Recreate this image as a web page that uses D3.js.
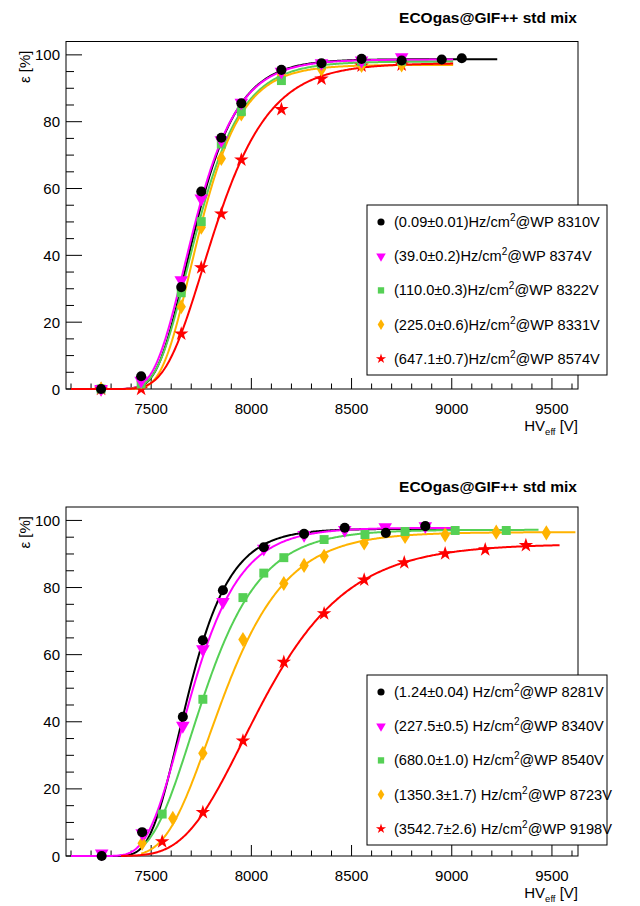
<!DOCTYPE html>
<html><head><meta charset="utf-8">
<script src="https://cdn.jsdelivr.net/npm/d3@7"></script>
<style>body{margin:0;background:#fff}svg{display:block;font-family:"Liberation Sans",Arial,sans-serif}</style>
</head><body><svg id="c" width="640" height="906"></svg>
<script>
// ---------- shared ----------
const titleText = "ECOgas@GIF++ std mix";
const xTicks = [7500, 8000, 8500, 9000, 9500];
const yTicks = [0, 20, 40, 60, 80, 100];
const seriesColors = ["#000000", "#ff00ff", "#55d055", "#ffb300", "#ff0000"];
const seriesMarkers = ["circle", "triangleDown", "square", "diamond", "star"];

// ---------- top panel data ----------
const topLegend = ["(0.09\u00b10.01)Hz/cm^2@WP 8310V", "(39.0\u00b10.2)Hz/cm^2@WP 8374V",
  "(110.0\u00b10.3)Hz/cm^2@WP 8322V", "(225.0\u00b10.6)Hz/cm^2@WP 8331V", "(647.1\u00b10.7)Hz/cm^2@WP 8574V"];
const topBlackHV  = [7250, 7450, 7650, 7750, 7850, 7950, 8150, 8350, 8550, 8750, 8950, 9050];
const topBlackEff = [0, 3.8, 30.5, 59.1, 75.2, 85.5, 95.5, 97.5, 98.8, 98.3, 98.6, 99.0];
const topMagHV    = [7250, 7450, 7650, 7750, 7850, 7950, 8150, 8350, 8550, 8750];
const topMagEff   = [0, 2.5, 32.6, 57.0, 74.5, 85.7, 95.0, 97.5, 98.3, 99.3];
const topGreenHV  = [7250, 7450, 7650, 7750, 7850, 7950, 8150, 8350, 8550, 8750];
const topGreenEff = [0, 1.5, 28.8, 50.1, 73.3, 83.0, 92.3, 97.2, 98.0, 98.2];
const topOrHV     = [7250, 7450, 7650, 7750, 7850, 7950, 8150, 8350, 8550, 8750];
const topOrEff    = [0, 2.2, 24.6, 48.4, 69.0, 82.3, 94.0, 95.7, 96.8, 97.0];
const topRedHV    = [7250, 7450, 7650, 7750, 7850, 7950, 8150, 8350, 8550, 8750];
const topRedEff   = [0, 0, 16.5, 36.3, 52.4, 68.6, 83.7, 92.8, 96.7, 97.0];
// fitted curve parameters (plateau, slope, position, range)
const topFitEmax = [98.7, 98.6, 98.0, 97.0, 97.5];
const topFitK    = [0.0070, 0.0068, 0.00666, 0.00707, 0.0054];
const topFitX0   = [7673, 7664, 7680, 7695, 7756];
const topFitFrom = [7100, 7100, 7100, 7100, 7100];
const topFitTo   = [9227, 9007, 9007, 9007, 9007];

// ---------- bottom panel data ----------
const botLegend = ["(1.24\u00b10.04) Hz/cm^2@WP 8281V", "(227.5\u00b10.5) Hz/cm^2@WP 8340V",
  "(680.0\u00b11.0) Hz/cm^2@WP 8540V", "(1350.3\u00b11.7) Hz/cm^2@WP 8723V", "(3542.7\u00b12.6) Hz/cm^2@WP 9198V"];
const botBlackHV  = [7253, 7455, 7658, 7758, 7858, 8062, 8263, 8466, 8671, 8868];
const botBlackEff = [0, 7.1, 41.5, 64.3, 79.2, 92.0, 96.0, 97.8, 96.3, 98.3];
const botMagHV    = [7253, 7455, 7658, 7758, 7858, 8062, 8263, 8466, 8668, 8868];
const botMagEff   = [0.8, 6.8, 38.8, 61.6, 75.7, 91.6, 95.7, 97.2, 98.0, 98.3];
const botGreenHV  = [7555, 7758, 7958, 8062, 8162, 8363, 8567, 8767, 9017, 9272];
const botGreenEff = [12.5, 46.7, 77.0, 84.3, 88.9, 94.3, 95.8, 96.7, 97.0, 97.0];
const botOrHV     = [7455, 7608, 7758, 7958, 8162, 8263, 8363, 8563, 8767, 8967, 9222, 9472];
const botOrEff    = [3.8, 11.2, 30.6, 64.5, 81.2, 86.6, 89.3, 93.3, 95.2, 95.7, 96.5, 96.3];
const botRedHV    = [7555, 7758, 7958, 8162, 8363, 8563, 8763, 8967, 9167, 9370];
const botRedEff   = [4.3, 13.0, 34.3, 57.8, 72.2, 82.3, 87.4, 90.1, 91.3, 92.6];
const botFitEmax = [97.5, 97.8, 97.2, 96.5, 93.0];
const botFitK    = [0.00706, 0.0061, 0.00521, 0.00469, 0.00347];
const botFitX0   = [7636, 7644, 7698, 7788, 7957];
const botFitFrom = [7250, 7100, 7450, 7450, 7350];
const botFitTo   = [9000, 9000, 9433, 9617, 9538];

// ---------- drawing ----------
const svg = d3.select("#c");
const xDomain = [7075, 9630];

function markerPath(type, size) {
  if (type === "circle") return d3.symbol(d3.symbolCircle, size)();
  if (type === "square") return d3.symbol(d3.symbolSquare, size)();
  if (type === "triangleDown") return d3.symbol(d3.symbolTriangle, size)();
  if (type === "diamond") {
    const h = Math.sqrt(size) * 0.72, w = h * 0.62;
    return `M0,${-h}L${w},0L0,${h}L${-w},0Z`;
  }
  return d3.symbol(d3.symbolStar, size)();
}
function drawMarker(g, type, color, x, y, size) {
  g.append("path").attr("d", markerPath(type, size))
    .attr("transform", `translate(${x},${y})` + (type === "triangleDown" ? " rotate(180)" : ""))
    .attr("fill", color);
}

function panel(cfg) {
  const x = d3.scaleLinear().domain(xDomain).range([66, 578]);
  const y = d3.scaleLinear().domain([0, 104]).range([cfg.bottom, cfg.top]);
  const g = svg.append("g");

  // title
  g.append("text").attr("x", 577).attr("y", cfg.titleY).attr("text-anchor", "end")
    .attr("font-weight", "bold").attr("font-size", 15.5).text(titleText);

  // frame
  g.append("rect").attr("x", 66).attr("y", cfg.top).attr("width", 512)
    .attr("height", cfg.bottom - cfg.top).attr("fill", "none").attr("stroke", "#000").attr("stroke-width", 1);

  // x axis ticks
  const xMinor = d3.range(7100, 9700, 100).filter(v => v < xDomain[1]);
  xMinor.forEach(v => {
    const major = v % 500 === 0;
    g.append("line").attr("x1", x(v)).attr("x2", x(v)).attr("y1", cfg.bottom)
      .attr("y2", cfg.bottom - (major ? 11 : 5.5)).attr("stroke", "#000");
  });
  xTicks.forEach(v => g.append("text").attr("x", x(v)).attr("y", cfg.bottom + 25)
    .attr("text-anchor", "middle").attr("font-size", 15).text(v));
  const xt = g.append("text").attr("x", 578).attr("y", cfg.bottom + 42).attr("text-anchor", "end").attr("font-size", 15);
  xt.append("tspan").text("HV");
  xt.append("tspan").attr("font-size", 9.5).attr("dy", 4).text("eff");
  xt.append("tspan").attr("dy", -4).text(" [V]");

  // y axis ticks
  d3.range(0, 104, 5).forEach(v => {
    const major = v % 20 === 0;
    g.append("line").attr("x1", 66).attr("x2", 66 + (major ? 16 : 8))
      .attr("y1", y(v)).attr("y2", y(v)).attr("stroke", "#000");
  });
  yTicks.forEach(v => g.append("text").attr("x", 60).attr("y", y(v) + 5.5)
    .attr("text-anchor", "end").attr("font-size", 15).text(v));
  g.append("text").attr("transform", `translate(30,${cfg.top + 9}) rotate(-90)`)
    .attr("text-anchor", "end").attr("font-size", 15).text("\u03b5 [%]");

  // fit curves
  const line = d3.line().x(d => x(d[0])).y(d => y(d[1]));
  cfg.series.forEach((s, i) => {
    const pts = d3.range(cfg.from[i], cfg.to[i] + 0.1, 5).concat([cfg.to[i]])
      .map(v => [v, cfg.emax[i] * Math.exp(-Math.exp(-cfg.k[i] * (v - cfg.x0[i])))]);
    g.append("path").attr("d", line(pts)).attr("fill", "none")
      .attr("stroke", seriesColors[i]).attr("stroke-width", 2);
  });
  // markers (black drawn last so it sits on top like the reference)
  [4, 3, 2, 1, 0].forEach(i => {
    const s = cfg.series[i];
    s.hv.forEach((h, j) => drawMarker(g, seriesMarkers[i], seriesColors[i], x(h), y(s.eff[j]),
      seriesMarkers[i] === "star" ? 65 : seriesMarkers[i] === "diamond" ? 110 : 80));
  });

  // legend
  const lg = g.append("g");
  lg.append("rect").attr("x", 367).attr("y", cfg.legTop).attr("width", 240).attr("height", 170)
    .attr("fill", "#fff").attr("stroke", "#000").attr("stroke-width", 1);
  cfg.legend.forEach((t, i) => {
    const cy = cfg.legTop + 17 + i * 34.2;
    drawMarker(lg, seriesMarkers[i], seriesColors[i], 381, cy,
      seriesMarkers[i] === "star" ? 32 : seriesMarkers[i] === "diamond" ? 55 : 40);
    const parts = t.split("^2");
    const tx = lg.append("text").attr("x", 394).attr("y", cy + 5).attr("font-size", 14.6);
    tx.append("tspan").text(parts[0]);
    tx.append("tspan").attr("font-size", 10).attr("dy", -6).text("2");
    tx.append("tspan").attr("dy", 6).text(parts[1]);
  });
}

panel({
  top: 41.5, bottom: 389, titleY: 23, legTop: 205, legend: topLegend,
  series: [{hv: topBlackHV, eff: topBlackEff}, {hv: topMagHV, eff: topMagEff},
    {hv: topGreenHV, eff: topGreenEff}, {hv: topOrHV, eff: topOrEff}, {hv: topRedHV, eff: topRedEff}],
  emax: topFitEmax, k: topFitK, x0: topFitX0, from: topFitFrom, to: topFitTo
});
panel({
  top: 507, bottom: 856, titleY: 492, legTop: 675, legend: botLegend,
  series: [{hv: botBlackHV, eff: botBlackEff}, {hv: botMagHV, eff: botMagEff},
    {hv: botGreenHV, eff: botGreenEff}, {hv: botOrHV, eff: botOrEff}, {hv: botRedHV, eff: botRedEff}],
  emax: botFitEmax, k: botFitK, x0: botFitX0, from: botFitFrom, to: botFitTo
});
</script></body></html>
